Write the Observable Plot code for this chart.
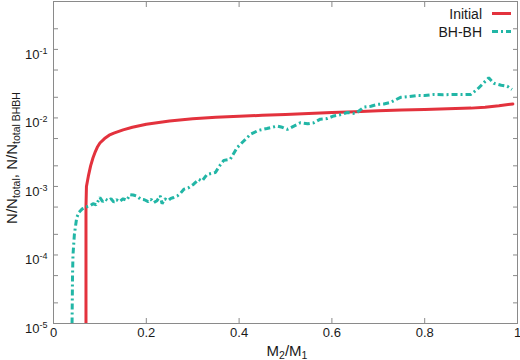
<!DOCTYPE html>
<html><head><meta charset="utf-8">
<script src="https://cdn.jsdelivr.net/npm/d3@7"></script>
<script src="https://cdn.jsdelivr.net/npm/@observablehq/plot@0.6"></script>
<style>
body{margin:0;background:#fff}
svg{font-family:"Liberation Sans",Arial,sans-serif}
</style>
</head><body><div id="chart"></div>
<script>
// ---- data ----
const initialX = [0.070,0.070,0.071,0.075,0.080,0.085,0.090,0.095,0.100,0.110,0.120,0.130,0.150,0.170,0.200,0.250,0.300,0.350,0.400,0.450,0.500,0.550,0.600,0.650,0.700,0.750,0.800,0.850,0.900,0.930,0.960,0.990];
const initialY = [1e-5,5e-4,1e-3,1.4e-3,2.0e-3,2.6e-3,3.2e-3,3.8e-3,4.3e-3,5.0e-3,5.6e-3,6.0e-3,6.7e-3,7.3e-3,8.1e-3,9.0e-3,9.7e-3,1.02e-2,1.06e-2,1.09e-2,1.12e-2,1.16e-2,1.20e-2,1.23e-2,1.27e-2,1.30e-2,1.33e-2,1.36e-2,1.39e-2,1.43e-2,1.50e-2,1.60e-2];

const bhbhX = [0.040,0.041,0.042,0.045,0.050,0.055,0.062,0.070,0.078,0.085,0.092,0.100,0.106,0.112,0.118,0.124,0.130,0.136,0.142,0.150,0.158,0.165,0.172,0.180,0.188,0.196,0.204,0.210,0.216,0.223,0.230,0.234,0.240,0.247,0.253,0.259,0.267,0.274,0.281,0.290,0.302,0.313,0.320,0.331,0.349,0.358,0.367,0.381,0.396,0.410,0.425,0.442,0.460,0.482,0.493,0.504,0.518,0.532,0.548,0.561,0.575,0.590,0.604,0.620,0.633,0.651,0.669,0.684,0.698,0.712,0.726,0.748,0.766,0.784,0.800,0.820,0.840,0.860,0.880,0.899,0.913,0.938,0.949,0.965,0.978,0.988];
const bhbhY = [1e-5,5e-5,1e-4,2e-4,3.5e-4,4.2e-4,4.7e-4,5.0e-4,5.2e-4,5.6e-4,5.4e-4,6.9e-4,6.0e-4,6.5e-4,6.2e-4,6.6e-4,5.9e-4,6.4e-4,6.0e-4,6.6e-4,6.3e-4,7.6e-4,7.5e-4,7.2e-4,6.5e-4,6.4e-4,6.0e-4,6.5e-4,5.8e-4,6.2e-4,7.3e-4,5.6e-4,6.6e-4,6.2e-4,6.7e-4,6.9e-4,7.3e-4,8.0e-4,9.1e-4,9.5e-4,1.08e-3,1.27e-3,1.2e-3,1.5e-3,1.6e-3,2.0e-3,2.4e-3,2.5e-3,3.7e-3,4.6e-3,5.8e-3,6.6e-3,7.0e-3,7.6e-3,7.3e-3,6.8e-3,7.6e-3,8.5e-3,8.2e-3,8.5e-3,9.6e-3,9.8e-3,1.07e-2,1.12e-2,1.2e-2,1.16e-2,1.44e-2,1.48e-2,1.58e-2,1.6e-2,1.68e-2,2.0e-2,2.05e-2,2.13e-2,2.12e-2,2.2e-2,2.18e-2,2.2e-2,2.19e-2,2.2e-2,2.6e-2,3.85e-2,3.2e-2,3.0e-2,2.9e-2,2.6e-2];

const seriesNames = ["Initial","BH-BH"];
const seriesColors = ["#e3323d","#22b6a6"];

const xTicks = [0,0.2,0.4,0.6,0.8,1];
const xTickLabels = ["0","0.2","0.4","0.6","0.8","1"];
const yTicks = [1e-5,1e-4,1e-3,1e-2,1e-1];
const yTickExps = ["-5","-4","-3","-2","-1"];
const yMinorTicks = [2e-5,5e-5,2e-4,5e-4,2e-3,5e-3,2e-2,5e-2,2e-1];

const xLabelParts = [["M",""],["2","sub"],["/M",""],["1","sub"]];
const yLabelParts = [["N/N",""],["total","sub"],[", N/N",""],["total BHBH","sub"]];

// ---- build ----
const initial = initialX.map((x,i)=>({x, y: initialY[i]}));
const bhbh = bhbhX.map((x,i)=>({x, y: bhbhY[i]}));
const dash = "6,3,2,3";
const axisGray = "#8a8a8a";

const chart = Plot.plot({
  width: 520, height: 360,
  marginLeft: 53, marginRight: 3, marginTop: 1, marginBottom: 37,
  style: {fontFamily: '"Liberation Sans",Arial,sans-serif', fontSize: "13px", color: "#1a1a1a", background: "#fff"},
  x: {domain: [0, 1]},
  y: {type: "log", domain: [1e-5, 0.5]},
  marks: [
    Plot.line(initial, {x: "x", y: "y", stroke: seriesColors[0], strokeWidth: 3, clip: true}),
    Plot.line(bhbh, {x: "x", y: "y", stroke: seriesColors[1], strokeWidth: 3, strokeDasharray: dash, strokeLinecap: "butt", strokeLinejoin: "miter", clip: true}),
    Plot.frame({stroke: axisGray}),
    Plot.axisX(xTicks, {anchor: "bottom", tickSize: -5, stroke: axisGray, fill: "none", label: null}),
    Plot.axisX(xTicks, {anchor: "top", tickSize: -5, stroke: axisGray, fill: "none", label: null}),
    Plot.axisY(yTicks.concat(yMinorTicks), {anchor: "left", tickSize: -5, stroke: axisGray, fill: "none", label: null}),
    Plot.axisY(yTicks.concat(yMinorTicks), {anchor: "right", tickSize: -5, stroke: axisGray, fill: "none", label: null}),
    Plot.axisX(xTicks, {anchor: "bottom", tickSize: 0, tickPadding: 4, tickFormat: d => xTickLabels[xTicks.indexOf(d)], label: null}),
    Plot.axisY(yTicks, {anchor: "left", tickSize: 0, tickPadding: 6, tickFormat: d => "10^" + yTickExps[yTicks.indexOf(d)], label: null})
  ]
});

document.getElementById("chart").appendChild(chart);
const svg = d3.select(chart);

// superscripts on y tick labels
svg.selectAll('g[aria-label="y-axis tick label"] text').each(function(){
  const t = this.textContent;
  const parts = t.split("^");
  if (parts.length !== 2) return;
  this.textContent = "";
  const s = d3.select(this).attr("dy", "0.4em");
  s.append("tspan").text(parts[0]);
  s.append("tspan").attr("dy", -5).attr("font-size", 9).text(parts[1]);
});

function richText(g, parts, size, subSize) {
  let state = "";
  for (const [str, kind] of parts) {
    const sp = g.append("tspan").text(str);
    if (kind === "sub") {
      sp.attr("font-size", subSize);
      if (state !== "sub") sp.attr("dy", 3);
    } else {
      sp.attr("font-size", size);
      if (state === "sub") sp.attr("dy", -3);
    }
    state = kind;
  }
}

// axis titles
const xs = chart.scale("x");
const xl = svg.append("text").attr("x", (xs.range[0] + xs.range[1]) / 2 + 2).attr("y", 356)
  .attr("text-anchor", "middle").attr("fill", "#1a1a1a");
richText(xl, xLabelParts, 15, 10.5);

const yl = svg.append("text").attr("transform", "translate(17,158) rotate(-90)")
  .attr("text-anchor", "middle").attr("fill", "#1a1a1a");
richText(yl, yLabelParts, 15, 10.5);

// legend
const legendRows = [
  {name: seriesNames[0], color: seriesColors[0], dash: null, y: 13.5},
  {name: seriesNames[1], color: seriesColors[1], dash: dash, y: 31.5}
];
for (const r of legendRows) {
  svg.append("text").attr("x", 482).attr("y", r.y + 5).attr("text-anchor", "end")
    .attr("font-size", 14).attr("fill", "#1a1a1a").text(r.name);
  svg.append("line").attr("x1", 492).attr("x2", 511).attr("y1", r.y).attr("y2", r.y)
    .attr("stroke", r.color).attr("stroke-width", 3).attr("stroke-dasharray", r.dash);
}
</script>
</body></html>
